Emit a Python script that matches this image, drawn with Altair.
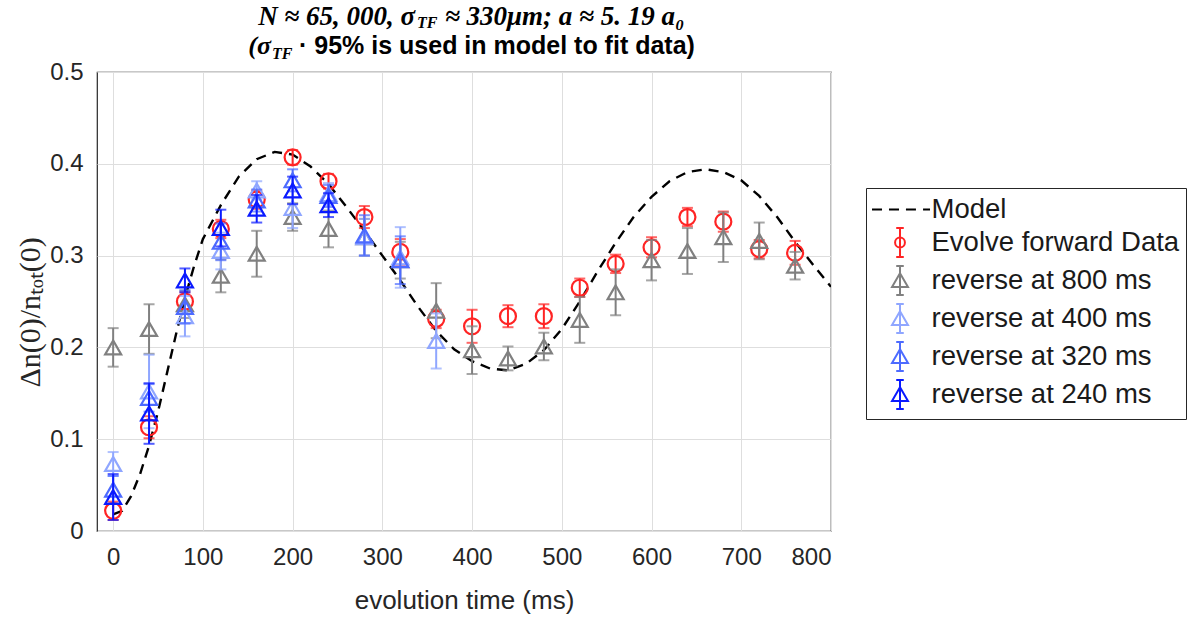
import altair as alt
import pandas as pd

# ---------------- data ----------------
SERIES = ["Model", "Evolve forward Data", "reverse at 800 ms",
          "reverse at 400 ms", "reverse at 320 ms", "reverse at 240 ms"]
COLORS = ["#000000", "#ff2424", "#808080", "#8fa6ff", "#4d6bff", "#0a1aff"]

model_t = [0, 10, 20, 30, 40, 50, 60, 70, 80, 90, 100, 120, 140, 160, 180, 200,
           220, 240, 260, 280, 300, 320, 340, 360, 380, 400, 420, 440, 460, 480,
           500, 520, 540, 560, 580, 600, 620, 640, 660, 680, 700, 720, 740, 760,
           780, 800]
model_v = [0.018, 0.022, 0.038, 0.062, 0.093, 0.130, 0.172, 0.214, 0.254, 0.288,
           0.318, 0.355, 0.386, 0.405, 0.413, 0.410, 0.397, 0.378, 0.353, 0.327,
           0.300, 0.273, 0.244, 0.218, 0.198, 0.185, 0.177, 0.175, 0.182, 0.197,
           0.220, 0.250, 0.283, 0.314, 0.342, 0.364, 0.381, 0.391, 0.394, 0.391,
           0.382, 0.365, 0.342, 0.315, 0.290, 0.266]

fwd_t = [0, 40, 80, 120, 160, 200, 240, 280, 320, 360, 400, 440, 480, 520, 560,
         600, 640, 680, 720, 760]
fwd_v = [0.022, 0.113, 0.250, 0.329, 0.361, 0.407, 0.381, 0.342, 0.304, 0.231,
         0.223, 0.234, 0.234, 0.265, 0.291, 0.309, 0.342, 0.337, 0.307, 0.303]
fwd_e = [0.010, 0.012, 0.010, 0.010, 0.010, 0.008, 0.008, 0.012, 0.014, 0.010,
         0.018, 0.012, 0.013, 0.010, 0.010, 0.011, 0.010, 0.011, 0.010, 0.013]

r800_t = fwd_t
r800_v = [0.200, 0.220, 0.247, 0.278, 0.302, 0.342, 0.329, 0.320, 0.295, 0.240,
          0.197, 0.188, 0.201, 0.230, 0.260, 0.295, 0.305, 0.320, 0.316, 0.289]
r800_e = [0.021, 0.027, 0.015, 0.018, 0.025, 0.015, 0.020, 0.020, 0.020, 0.030,
          0.026, 0.013, 0.015, 0.025, 0.025, 0.022, 0.025, 0.027, 0.020, 0.015]

r400_t = [0, 40, 80, 120, 160, 200, 240, 280, 320, 360]
r400_v = [0.073, 0.152, 0.234, 0.305, 0.371, 0.352, 0.367, 0.320, 0.298, 0.207]
r400_e = [0.013, 0.040, 0.022, 0.020, 0.010, 0.022, 0.012, 0.020, 0.033, 0.030]

r320_t = [0, 40, 80, 120, 160, 200, 240, 280, 320]
r320_v = [0.045, 0.145, 0.244, 0.315, 0.360, 0.382, 0.365, 0.322, 0.295]
r320_e = [0.015, 0.015, 0.018, 0.020, 0.012, 0.012, 0.012, 0.022, 0.026]

r240_t = [0, 40, 80, 120, 160, 200, 240]
r240_v = [0.037, 0.128, 0.273, 0.330, 0.351, 0.371, 0.355]
r240_e = [0.025, 0.033, 0.013, 0.020, 0.015, 0.015, 0.013]

X_TICKS = [0, 100, 200, 300, 400, 500, 600, 700, 800]
Y_TICKS = [0, 0.1, 0.2, 0.3, 0.4, 0.5]

TITLE1_A = "N ≈ 65, 000, σ"
TITLE1_SUB = "TF"
TITLE1_B = "≈ 330μm; a ≈ 5. 19 a₀"
TITLE2_A = "(σ"
TITLE2_SUB = "TF"
TITLE2_B = "· 95% is used in model to fit data)"
Y_TITLE = "Δn(0)/nₜₒₜ(0)"
X_TITLE = "evolution time (ms)"

# ---------------- tables ----------------
def frame(name, t, v, e):
    return pd.DataFrame({"series": name, "t": t, "v": v,
                         "lo": [a - b for a, b in zip(v, e)],
                         "hi": [a + b for a, b in zip(v, e)]})

scatter = [
    (SERIES[1], COLORS[1], "circle", frame(SERIES[1], fwd_t, fwd_v, fwd_e)),
    (SERIES[2], COLORS[2], "triangle-up", frame(SERIES[2], r800_t, r800_v, r800_e)),
    (SERIES[3], COLORS[3], "triangle-up", frame(SERIES[3], r400_t, r400_v, r400_e)),
    (SERIES[4], COLORS[4], "triangle-up", frame(SERIES[4], r320_t, r320_v, r320_e)),
    (SERIES[5], COLORS[5], "triangle-up", frame(SERIES[5], r240_t, r240_v, r240_e)),
]
model_df = pd.DataFrame({"t": model_t, "v": model_v})
all_pts = pd.concat([s[3] for s in scatter], ignore_index=True)

FONT = "Liberation Sans"
INK = "#262626"

xs = alt.Scale(domain=[-18, 800], nice=False, zero=False)
ys = alt.Scale(domain=[0, 0.5], nice=False, zero=False)

xaxis = alt.Axis(values=X_TICKS, format="d", labelFontSize=24, labelFont=FONT,
                 labelColor=INK, labelPadding=14, ticks=False, domain=False,
                 grid=True, gridColor="#dedede", gridWidth=1,
                 title=X_TITLE, titleFont=FONT, titleFontSize=26,
                 titleFontWeight="normal", titleColor=INK, titleY=69,
                 titleBaseline="middle")
yaxis = alt.Axis(values=Y_TICKS, format="~g", labelFontSize=24, labelFont=FONT,
                 labelColor=INK, labelPadding=14, ticks=False, domain=False,
                 grid=True, gridColor="#dedede", gridWidth=1,
                 title=Y_TITLE, titleFont="Liberation Serif", titleFontSize=30,
                 titleFontWeight="normal", titleColor=INK, titleX=-67, titleY=240,
                 titleAngle=270, titleAlign="center", titleBaseline="middle")

X = alt.X("t:Q", scale=xs, axis=xaxis, title=X_TITLE)
Y = alt.Y("v:Q", scale=ys, axis=yaxis, title=Y_TITLE)

layers = []
layers.append(alt.Chart(model_df).mark_line(color="black", strokeWidth=2.4,
                                            strokeDash=[10, 7], clip=True)
              .encode(x=X, y=Y))

for name, col, shp, df in scatter:
    base = alt.Chart(df)
    layers.append(base.mark_rule(color=col, strokeWidth=2)
                  .encode(x=X, y=alt.Y("lo:Q", scale=ys, axis=yaxis, title=Y_TITLE), y2="hi:Q"))
    layers.append(base.mark_tick(color=col, orient="horizontal", size=11, thickness=2)
                  .encode(x=X, y=alt.Y("lo:Q", scale=ys, axis=yaxis, title=Y_TITLE)))
    layers.append(base.mark_tick(color=col, orient="horizontal", size=11, thickness=2)
                  .encode(x=X, y=alt.Y("hi:Q", scale=ys, axis=yaxis, title=Y_TITLE)))
    layers.append(base.mark_point(shape=shp, color=col, filled=False, size=256,
                                  strokeWidth=2.2, opacity=1)
                  .encode(x=X, y=Y))

# legend glyphs (custom symbol paths: marker with error bar, dashed line)
BAR = "M0,-1L0,1M-0.26,-1L0.26,-1M-0.26,1L0.26,1"
CIRC = BAR + "M0.34,0A0.34,0.34,0,1,1,-0.34,0A0.34,0.34,0,1,1,0.34,0Z"
TRI = BAR + "M0,-0.5L0.55,0.45L-0.55,0.45Z"
DASH = "M-1.93,0L-1.24,0M-0.76,0L-0.07,0M0.41,0L1.1,0M1.59,0L2.07,0"
SHAPES = [DASH, CIRC, TRI, TRI, TRI, TRI]

legend = alt.Legend(orient="none", legendX=769, legendY=116, title=None,
                    labelFontSize=27.5, labelFont=FONT, labelColor="#1a1a1a",
                    labelLimit=500, labelOffset=16, symbolSize=841,
                    symbolStrokeWidth=2, symbolOffset=12.5, symbolOpacity=1,
                    padding=6, rowPadding=1, strokeColor=INK, fillColor="white")

layers.append(alt.Chart(all_pts).mark_point(opacity=0, filled=False)
              .encode(x=X, y=Y,
                      color=alt.Color("series:N", scale=alt.Scale(domain=SERIES, range=COLORS), legend=legend),
                      shape=alt.Shape("series:N", scale=alt.Scale(domain=SERIES, range=SHAPES), legend=legend)))

# title built from text pieces (subscripts)
one = pd.DataFrame({"k": [0]})
SERIF = "Liberation Serif"
def txt(s, x, y, align, size, font, style="normal", weight="bold"):
    return alt.Chart(one).mark_text(text=s, align=align, baseline="alphabetic",
                                    fontSize=size, font=font, fontStyle=style,
                                    fontWeight=weight, color="black").encode(
        x=alt.value(x), y=alt.value(y))

layers += [
    txt(TITLE1_A, 318, -47, "right", 27, SERIF, "italic"),
    txt(TITLE1_SUB, 320, -44, "left", 16, SERIF, "italic"),
    txt(TITLE1_B, 348, -47, "left", 27, SERIF, "italic"),
    txt(TITLE2_A, 174, -18, "right", 26, SERIF, "italic"),
    txt(TITLE2_SUB, 175, -13, "left", 16, SERIF, "italic"),
    txt(TITLE2_B, 202, -18, "left", 25, FONT),
]

chart = alt.layer(*layers).properties(
    width=734, height=459,
    autosize=alt.AutoSizeParams(type="none"),
    padding={"left": 97, "top": 72, "right": 359, "bottom": 86},
    background="white",
).configure_view(stroke=INK, strokeWidth=1.2)

chart.save("out.html", embed_options={"renderer": "svg", "actions": False})
